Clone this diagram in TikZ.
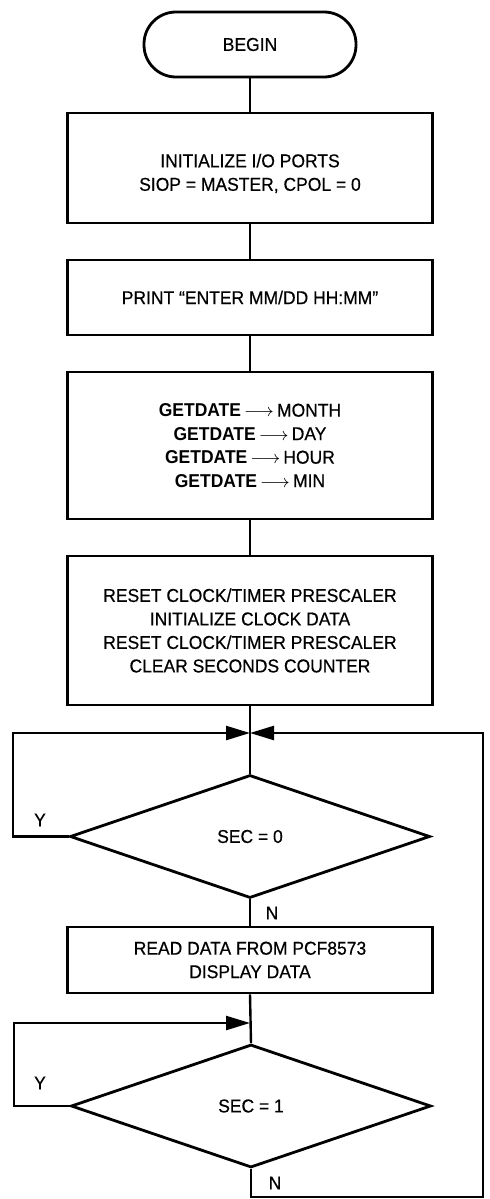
\documentclass[tikz,border=0pt]{standalone}
\usepackage{fontspec}
\setmainfont{Liberation Sans}[FakeStretch=0.94, UprightFeatures={FakeBold=0.5}]
\usetikzlibrary{shapes.geometric,arrows.meta}
\begin{document}
\begin{tikzpicture}[x=0.5pt,y=-0.5pt,
  txt/.style={font=\fontsize{9.3}{11.75}\selectfont},
  box/.style={draw, line width=1.4pt, minimum width=182.5pt, inner sep=0pt, align=center, txt},
  dec/.style={draw, diamond, line width=1.4pt, inner sep=0pt, minimum width=180pt, minimum height=61.5pt, txt},
  conn/.style={line width=1.2pt},
  tip/.style={-{Triangle[length=12pt,width=7pt]}},
  lbl/.style={inner sep=0pt, txt}
]
\useasboundingbox (0,0) rectangle (490,1199);
\newcommand{\arr}{\,$\longrightarrow$\,}
\node[box, rounded corners=16pt, minimum width=106pt, minimum height=32.5pt] (begin) at (250,44.5) {BEGIN};
\node[box, minimum height=55pt] (b1) at (250,168) {};
\node[lbl, align=center] (b1t) at (250,173.5) {INITIALIZE I/O PORTS\\SIOP = MASTER, CPOL = 0};
\node[box, minimum height=37.5pt] (b2) at (250,297.5) {PRINT “ENTER MM/DD HH:MM”};
\node[box, minimum height=73.5pt] (b3) at (250,445.5) {\textbf{GETDATE}\arr MONTH\\\textbf{GETDATE}\arr DAY\\\textbf{GETDATE}\arr HOUR\\\textbf{GETDATE}\arr MIN};
\node[box, minimum height=74.5pt] (b4) at (250,630.5) {RESET CLOCK/TIMER PRESCALER\\INITIALIZE CLOCK DATA\\RESET CLOCK/TIMER PRESCALER\\CLEAR SECONDS COUNTER};
\coordinate (j1) at (250,733);
\node[dec] (d1) at (250,836.5) {SEC = 0};
\node[box, minimum height=33pt] (b5) at (250,960) {READ DATA FROM PCF8573\\DISPLAY DATA};
\coordinate (j2) at (250,1023);
\node[dec] (d2) at (251,1106) {SEC = 1};
\coordinate (ya) at (13,836.5);
\coordinate (yb) at (14,1106);
\coordinate (nr) at (483,733);

\draw[conn] (begin.south) -- (b1.north);
\draw[conn] (b1.south) -- (b2.north);
\draw[conn] (b2.south) -- (b3.north);
\draw[conn] (b3.south) -- (b4.north);
\draw[conn] (b4.south) -- (d1.north);
\draw[conn] (d1.south) -- (b5.north);
\draw[conn] (b5.south) -- (d2.north);
\draw[conn,tip] (d1.west) -- (ya) |- (j1);
\draw[conn,tip] (d2.south) -- ++(0,28) -| (nr) -- (j1);
\draw[conn,tip] (d2.west) -- (yb) |- (j2);

\node[lbl] (y1) at (40,820) {Y};
\node[lbl] (n1) at (272,913) {N};
\node[lbl] (y2) at (40,1083) {Y};
\node[lbl] (n2) at (275,1183) {N};
\end{tikzpicture}
\end{document}
